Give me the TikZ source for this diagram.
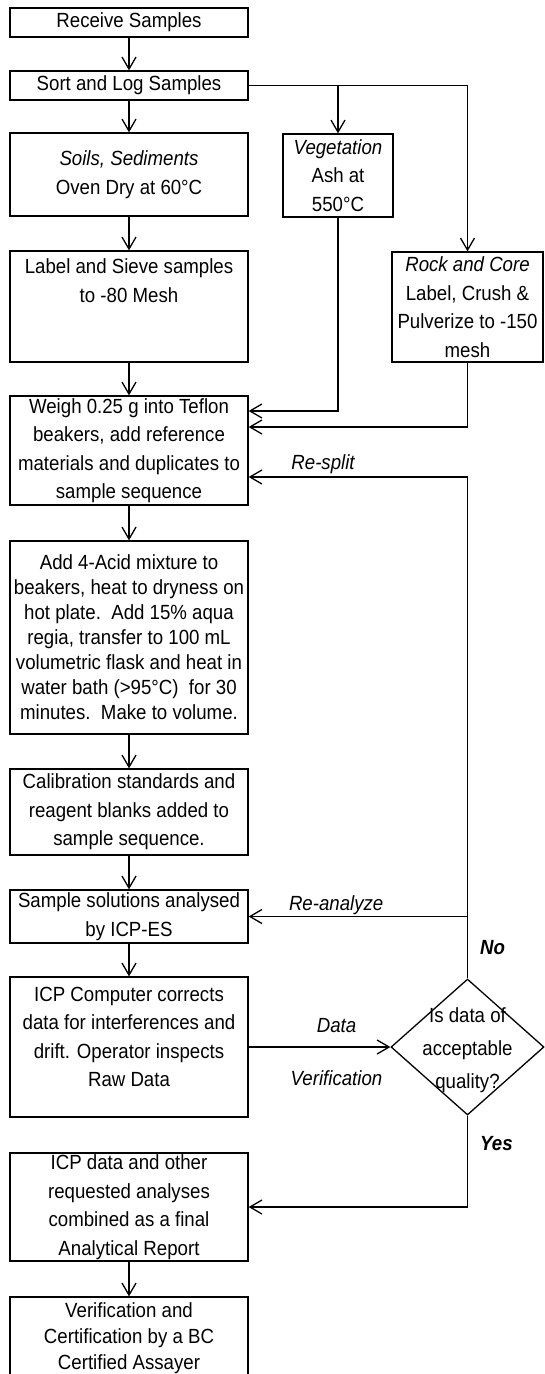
\documentclass[tikz,border=0pt]{standalone}
\usepackage{fontspec}
\setmainfont[FakeStretch=0.91]{Liberation Sans}
\usetikzlibrary{shapes.geometric,arrows.meta}

\begin{document}
\begin{tikzpicture}[
    x=0.5pt, y=-0.5pt,
    block/.style={draw, line width=0.65pt, minimum width=119pt, inner xsep=1pt, inner ysep=0.5pt, align=center, font=\fontsize{10.25}{14.25}\selectfont},
    decision/.style={draw, diamond, line width=0.65pt, minimum width=76.5pt, minimum height=68pt, inner sep=0pt},
    arrow/.style={-{Straight Barb[length=6pt,width=7pt]}, line width=0.65pt},
    note/.style={font=\fontsize{10.25}{12}\selectfont\itshape, inner sep=0.5pt},
    answer/.style={font=\fontsize{10.25}{12}\selectfont\bfseries\itshape, inner sep=1pt}
]
\useasboundingbox (0,0) rectangle (545,1374);

% sample preparation
\node[block, minimum height=14.5pt] (recv) at (129,22.5) {Receive Samples};
\node[block, minimum height=14.5pt] (sort) at (129,85.5) {Sort and Log Samples};
\node[block, minimum height=41.5pt] (soils) at (129,174.5) {\textit{Soils, Sediments}\\Oven Dry at 60°C};
\node[block, minimum width=55pt, minimum height=41.5pt] (veg) at (338,175.5) {\textit{Vegetation}\\Ash at\\550°C};
\node[block, minimum height=55.5pt] (sieve) at (129,306.5) {Label and Sieve samples\\to -80 Mesh\\[11.5pt]\mbox{}};
\node[block, minimum width=75.5pt, minimum height=55pt] (rock) at (467.5,307) {\textit{Rock and Core}\\Label, Crush \&\\Pulverize to -150\\mesh};

% digestion and analysis
\node[block, minimum height=54.5pt] (weigh) at (129,450.5) {Weigh 0.25 g into Teflon\\beakers, add reference\\materials and duplicates to\\sample sequence};
\node[block, minimum height=96.5pt, font=\fontsize{10.25}{12.5}\selectfont] (acid) at (129,637.5) {Add 4-Acid mixture to\\beakers, heat to dryness on\\hot plate.\ \ Add 15\% aqua\\regia, transfer to 100 mL\\volumetric flask and heat in\\water bath (>95°C)\ \ for 30\\minutes.\ \ Make to volume.};
\node[block, minimum height=43pt] (calib) at (129,812) {Calibration standards and\\reagent blanks added to\\sample sequence.};
\node[block, minimum height=26.5pt] (analyse) at (129,916.5) {Sample solutions analysed\\by ICP-ES};
\node[block, minimum height=70pt] (icp) at (129,1047) {ICP Computer corrects\\data for interferences and\\drift. Operator inspects\\Raw Data\\[-4pt]\mbox{}};

% quality check
\node[decision] (dec) at (467.5,1047) {};
\node[align=center, inner sep=0pt, font=\fontsize{10.25}{16.5}\selectfont] (dectext) at ([yshift=-1.5pt]dec.center) {Is data of\\acceptable\\quality?};

% reporting
\node[block, minimum height=54pt] (report) at (129,1207) {ICP data and other\\requested analyses\\combined as a final\\Analytical Report};
\node[block, minimum height=41.5pt, font=\fontsize{10.25}{13}\selectfont] (verify) at (129,1338.5) {Verification and\\Certification by a BC\\Certified Assayer};

% main flow
\draw[arrow] (recv) -- (sort);
\draw[arrow] (sort) -- (soils);
\draw[arrow] (soils) -- (sieve);
\draw[arrow] (sieve) -- (weigh);
\draw[arrow] (weigh) -- (acid);
\draw[arrow] (acid) -- (calib);
\draw[arrow] (calib) -- (analyse);
\draw[arrow] (analyse) -- (icp);
\draw[arrow] (report) -- (verify);

% branches
\draw[arrow] (sort.east) -| (rock.north);
\draw[arrow] (sort.east -| veg.north) -- (veg.north);
\draw[arrow] (veg.south) |- ([yshift=19.75pt]weigh.east);
\draw[arrow] (rock.south) |- ([yshift=11.75pt]weigh.east);

% data check and loops
\draw[arrow] (icp.east) -- node[note, pos=0.62, above=6.5pt] (lbldata) {Data}
    node[note, pos=0.62, below=11pt] (lblverif) {Verification} (dec.west);
\draw[arrow] (dec.north) -- node[answer, right=5pt] (lblno) {No} (dec.north |- analyse.east)
    -- node[note, pos=0.6, above] (lblreana) {Re-analyze} (analyse.east);
\draw[arrow] (dec.north |- analyse.east) |- node[note, pos=0.83, above=1pt] (lblresplit) {Re-split} ([yshift=-13.25pt]weigh.east);
\draw[arrow] (dec.south) |- node[answer, pos=0.15, right=5pt] (lblyes) {Yes} (report.east);
\end{tikzpicture}
\end{document}
